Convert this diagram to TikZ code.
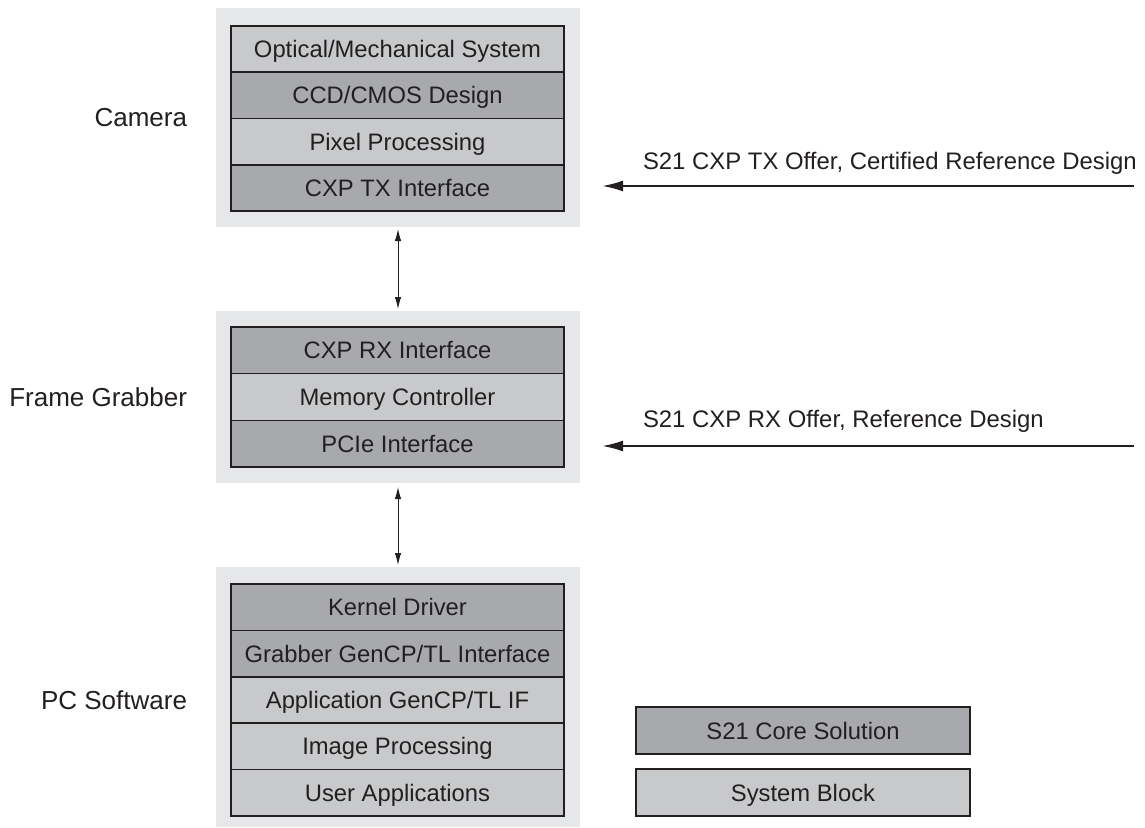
\documentclass[tikz,border=0pt]{standalone}
\usepackage{fontspec}
\setmainfont{Liberation Sans}
\usetikzlibrary{arrows.meta}
\definecolor{ink}{HTML}{231F20}
\definecolor{coreGray}{HTML}{A7A9AC}
\definecolor{sysGray}{HTML}{C8C9CB}
\definecolor{groupGray}{HTML}{E6E7E8}
\tikzset{
  every node/.style={text=ink, inner sep=0pt, outer sep=0pt},
  rowtxt/.style={font=\fontsize{23.8}{28}\selectfont, text height=17pt, text depth=0pt},
  corerow/.style={rowtxt, fill=coreGray, draw=ink, line width=1.6pt,
                  minimum width=333pt, minimum height=#1},
  sysrow/.style={rowtxt, fill=sysGray, draw=ink, line width=1.6pt,
                 minimum width=333pt, minimum height=#1},
  grouplabel/.style={font=\fontsize{26}{30}\selectfont, text height=19pt, text depth=0pt, anchor=east},
  offertxt/.style={font=\fontsize{23.9}{28}\selectfont, anchor=base west},
  groupbox/.style={fill=groupGray, draw=none},
  link/.style={draw=ink, line width=1pt, {Latex[length=12pt,width=6.5pt]}-{Latex[length=12pt,width=6.5pt]}},
  offer/.style={draw=ink, line width=2.2pt, -{Latex[length=21pt,width=11pt]}},
}
\begin{document}
\begin{tikzpicture}[x=1pt, y=-1pt]
\useasboundingbox (0,0) rectangle (1145,827);

% grey group panels
\node[groupbox, minimum width=364pt, minimum height=219pt, anchor=north west] (gcam) at (216,8) {};
\node[groupbox, minimum width=364pt, minimum height=172pt, anchor=north west] (gfg) at (216,311) {};
\node[groupbox, minimum width=364pt, minimum height=260pt, anchor=north west] (gpc) at (216,567) {};

% camera stack
\node[sysrow=46.25pt]  (c1) at (397.5,49.1)  {Optical/Mechanical System};
\node[corerow=46.25pt] (c2) at (397.5,95.4)  {CCD/CMOS Design};
\node[sysrow=46.25pt]  (c3) at (397.5,141.6) {Pixel Processing};
\node[corerow=46.25pt] (c4) at (397.5,187.9) {CXP TX Interface};
\draw[ink, line width=2pt] (c1.north west) rectangle (c4.south east);

% frame grabber stack
\node[corerow=46.67pt] (f1) at (397.5,350.3) {CXP RX Interface};
\node[sysrow=46.67pt]  (f2) at (397.5,397)   {Memory Controller};
\node[corerow=46.67pt] (f3) at (397.5,443.7) {PCIe Interface};
\draw[ink, line width=2pt] (f1.north west) rectangle (f3.south east);

% PC software stack
\node[corerow=46.4pt] (p1) at (397.5,607.2) {Kernel Driver};
\node[corerow=46.4pt] (p2) at (397.5,653.6) {Grabber GenCP/TL Interface};
\node[sysrow=46.4pt]  (p3) at (397.5,700)   {Application GenCP/TL IF};
\node[sysrow=46.4pt]  (p4) at (397.5,746.4) {Image Processing};
\node[sysrow=46.4pt]  (p5) at (397.5,792.8) {User Applications};
\draw[ink, line width=2pt] (p1.north west) rectangle (p5.south east);

% group labels
\node[grouplabel] (lcam) at (187,117) {Camera};
\node[grouplabel] (lfg)  at (187,397) {Frame Grabber};
\node[grouplabel] (lpc)  at (187,700) {PC Software};

% links between groups
\draw[link] ([yshift=-2pt]gcam.south) -- ([yshift=2pt]gfg.north);
\draw[link] ([yshift=-4pt]gfg.south) -- ([yshift=2pt]gpc.north);

% offers
\node[offertxt] (ttx) at (643,169) {S21 CXP TX Offer, Certified Reference Design};
\node[offertxt] (trx) at (643,427) {S21 CXP RX Offer, Reference Design};
\coordinate (txfrom) at (1134,186);
\coordinate (txto)   at (602,186);
\coordinate (rxfrom) at (1134,446);
\coordinate (rxto)   at (602,446);
\draw[offer] (txfrom) -- (txto);
\draw[offer] (rxfrom) -- (rxto);

% legend
\node[corerow=47pt, minimum width=334pt] (kcore) at (803,730.5) {S21 Core Solution};
\node[sysrow=47pt,  minimum width=334pt] (ksys)  at (803,792.5) {System Block};
\end{tikzpicture}
\end{document}
